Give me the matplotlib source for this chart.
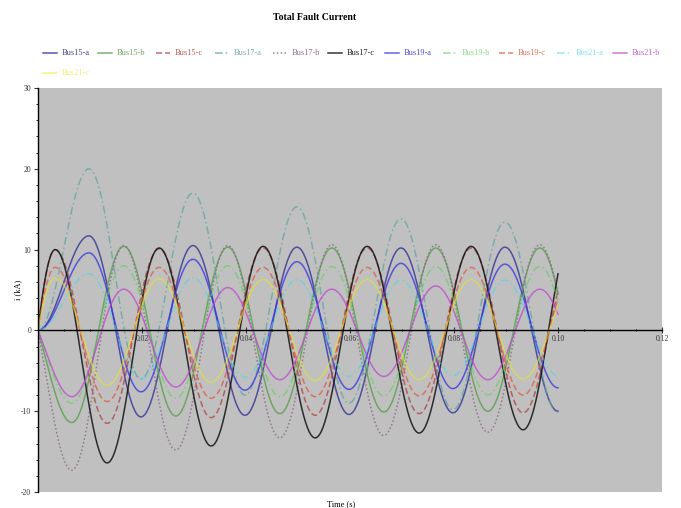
import numpy as np
import matplotlib
matplotlib.use("Agg")
import matplotlib.pyplot as plt
from matplotlib.lines import Line2D
from matplotlib.ticker import MultipleLocator

plt.rcParams['font.family'] = ['Liberation Serif', 'DejaVu Serif']

# ---------------- data ----------------
title = "Total Fault Current"
xlabel = "Time (s)"
ylabel = "i (kA)"

labels = ["Bus15-a", "Bus15-b", "Bus15-c", "Bus17-a", "Bus17-b", "Bus17-c",
          "Bus19-a", "Bus19-b", "Bus19-c", "Bus21-a", "Bus21-b", "Bus21-c"]

x_ticks = [0.02, 0.04, 0.06, 0.08, 0.10, 0.12]
x_tick_labels = ["0.02", "0.04", "0.06", "0.08", "0.10", "0.12"]
y_ticks = [-20, -10, 0, 10, 20, 30]
y_tick_labels = ["-20", "-10", "0", "10", "20", "30"]

# times of the extrema (start, peaks/troughs, end) per phase
t_phase_a = [0.0, 0.0098, 0.0198, 0.0298, 0.0398, 0.0498, 0.0598, 0.0698, 0.0798, 0.0898, 0.1]
t_phase_b = [0.0, 0.0065, 0.0165, 0.0265, 0.0365, 0.0465, 0.0565, 0.0665, 0.0765, 0.0865, 0.0965, 0.1]
t_phase_c = [0.0, 0.0033, 0.0133, 0.0233, 0.0333, 0.0433, 0.0533, 0.0633, 0.0733, 0.0833, 0.0933, 0.1]

bus15_a = [0, 11.7, -10.7, 10.5, -10.5, 10.3, -10.4, 10.2, -10.2, 10.3, -10.0]
bus15_b = [0, -11.4, 10.4, -10.6, 10.3, -10.3, 10.2, -10.1, 10.2, -10.0, 10.2, 4.6]
bus15_c = [0, 10.0, -11.5, 10.1, -10.8, 10.2, -10.5, 10.2, -10.3, 10.2, -10.2, 5.0]

bus17_a = [0, 20.0, -6.0, 17.0, -8.0, 15.3, -9.0, 13.8, -9.8, 13.4, -10.2]
bus17_b = [0, -17.3, 10.5, -14.8, 10.5, -13.3, 10.6, -13.0, 10.6, -12.6, 10.6, 4.4]
bus17_c = [0, 10.0, -16.4, 10.2, -14.3, 10.4, -13.3, 10.4, -12.7, 10.4, -12.3, 7.0]

bus19_a = [0, 9.6, -7.6, 8.8, -7.4, 8.5, -7.3, 8.3, -7.2, 8.2, -7.1]
bus19_b = [0, -9.0, 8.0, -8.4, 8.0, -8.2, 7.9, -8.1, 7.9, -8.0, 7.9, 3.6]
bus19_c = [0, 7.8, -8.8, 7.8, -8.4, 7.8, -8.2, 7.8, -8.1, 7.8, -8.0, 4.0]

bus21_a = [0, 7.0, -6.0, 6.5, -5.8, 6.3, -5.7, 6.2, -5.6, 6.2, -5.6]
bus21_b = [0, -8.2, 5.1, -7.0, 5.3, -6.1, 5.1, -5.7, 5.5, -6.1, 5.1, 2.0]
bus21_c = [0, 6.5, -6.8, 6.4, -6.4, 6.3, -6.2, 6.3, -6.1, 6.3, -6.0, 3.0]

series = [(t_phase_a, bus15_a, False), (t_phase_b, bus15_b, True), (t_phase_c, bus15_c, True),
          (t_phase_a, bus17_a, False), (t_phase_b, bus17_b, True), (t_phase_c, bus17_c, True),
          (t_phase_a, bus19_a, False), (t_phase_b, bus19_b, True), (t_phase_c, bus19_c, True),
          (t_phase_a, bus21_a, False), (t_phase_b, bus21_b, True), (t_phase_c, bus21_c, True)]

colors = ["#3a3a9a", "#5a9e4e", "#b04848", "#6aa6a4", "#8a6a88", "#111111",
          "#3a3ae0", "#62d062", "#e05a3a", "#48d8e8", "#c048d0", "#e8e820"]
alphas = [0.85, 0.8, 0.8, 0.8, 0.85, 0.85, 0.8, 0.65, 0.75, 0.6, 0.75, 0.55]
styles = ["-", "-", (0, (4, 2)), (0, (5, 2, 1, 2)), (0, (1, 1.5)), "-",
          "-", (0, (5, 2, 1, 2)), (0, (4, 2)), (0, (5, 2, 1, 2)), "-", "-"]

HALF = 0.01  # half period of the 50 Hz wave


def wave(times, vals, end_free):
    ts, vs = [], []
    n = len(times)
    for i in range(n - 1):
        t0, t1, v0, v1 = times[i], times[i + 1], vals[i], vals[i + 1]
        d = t1 - t0
        tt = np.linspace(t0, t1, 60)
        if i == n - 2 and end_free:
            k = (1 - np.cos(np.pi * (tt - t0) / HALF)) / (1 - np.cos(np.pi * d / HALF))
            vv = v0 + (v1 - v0) * k
        elif i == 0 and d < 0.9 * HALF:
            k = (1 - np.cos(np.pi * (t1 - tt) / HALF)) / (1 - np.cos(np.pi * d / HALF))
            vv = v1 + (v0 - v1) * k
        else:
            s = (tt - t0) / d
            vv = v0 + (v1 - v0) * (1 - np.cos(np.pi * s)) / 2
        ts.append(tt)
        vs.append(vv)
    return np.concatenate(ts), np.concatenate(vs)


fig = plt.figure(figsize=(6.81, 5.08), dpi=100)
W, H = 681.0, 508.0
ax = fig.add_axes([38 / W, 1 - 492 / H, (662 - 38) / W, (492 - 88) / H])
ax.set_facecolor("#c0c0c0")

for (tt, vv, free), c, ls, a in zip(series, colors, styles, alphas):
    x, y = wave(tt, vv, free)
    ax.plot(x, y, color=c, ls=ls, lw=1.1, alpha=a)

ax.set_xlim(0, 0.12)
ax.set_ylim(-20, 30)
for s in ["top", "right"]:
    ax.spines[s].set_visible(False)
ax.spines["bottom"].set_position(("data", 0))
ax.spines["bottom"].set_linewidth(1.0)
ax.spines["left"].set_linewidth(1.0)
ax.spines["bottom"].set_zorder(5)
ax.xaxis.set_minor_locator(MultipleLocator(0.005))
ax.yaxis.set_minor_locator(MultipleLocator(2))
ax.tick_params(axis="x", which="major", direction="inout", length=4, labelsize=5.5, pad=1, colors="#333333")
ax.tick_params(axis="x", which="minor", direction="inout", length=2)
ax.tick_params(axis="y", which="major", direction="out", length=3, labelsize=5.5, pad=2, colors="#333333")
ax.tick_params(axis="y", which="minor", direction="out", length=1.5)
ax.set_xticks(x_ticks)
ax.set_xticklabels(x_tick_labels)
ax.set_yticks(y_ticks)
ax.set_yticklabels(y_tick_labels)

ax.set_xlabel(xlabel, fontsize=6, labelpad=0)
ax.xaxis.set_label_coords(0.485, -0.02)
ax.set_ylabel(ylabel, fontsize=6)
ax.yaxis.set_label_coords(-0.026, 0.5)

fig.text(315 / W, 1 - 17 / H, title, ha="center", va="center", fontsize=7, fontweight="bold")

# legend drawn as a row of entries, like the reference
leg_x = [43, 98, 156, 215, 273, 328, 385, 443, 499, 557, 613, 43]
leg_y = [53] * 11 + [73]
for i, (lab, c, ls, a) in enumerate(zip(labels, colors, styles, alphas)):
    x0 = leg_x[i] / W
    y0 = 1 - leg_y[i] / H
    fig.add_artist(Line2D([x0, x0 + 14 / W], [y0, y0], color=c, ls=ls, lw=1.1,
                          alpha=a, transform=fig.transFigure))
    fig.text(x0 + 19 / W, y0, lab, color=c, alpha=min(1.0, a + 0.1), fontsize=6, va="center", ha="left")

fig.savefig("out.png", dpi=100)
